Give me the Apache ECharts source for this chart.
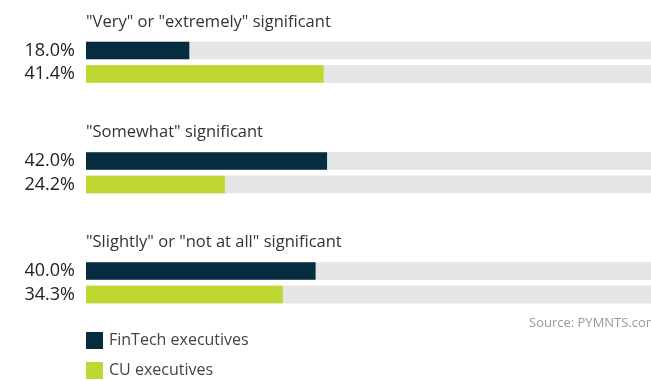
<!DOCTYPE html>
<html><head><meta charset="utf-8">
<script src="https://cdn.jsdelivr.net/npm/echarts@6/dist/echarts.min.js"></script>
<style>html,body{margin:0;padding:0;background:#fff}#c{width:651px;height:381px}</style>
</head><body><div id="c"></div>
<script>
const groupTitles = ['"Very" or "extremely" significant', '"Somewhat" significant', '"Slightly" or "not at all" significant'];
const seriesNames = ['FinTech executives', 'CU executives'];
const fintech = [18.0, 42.0, 40.0];
const cu = [41.4, 24.2, 34.3];
const colors = ['#062d3f', '#bfd730'];
const FONT = '"Open Sans", sans-serif';

const chart = echarts.init(document.getElementById('c'));
const gridTops = [38.75, 149.25, 259.25];
const titleTops = [14, 124, 234];
const grids = [], xAxes = [], yAxes = [], series = [], titles = [];
groupTitles.forEach((t, i) => {
  grids.push({left: 86, width: 574, top: gridTops[i], height: 47, outerBoundsMode: 'none', containLabel: false});
  xAxes.push({gridIndex: i, type: 'value', min: 0, max: 100, show: false});
  yAxes.push({gridIndex: i, type: 'category', inverse: true, data: seriesNames, show: false});
  titles.push({text: t, left: 86, top: titleTops[i], padding: [0, 0, 0, 0], textStyle: {fontFamily: FONT, fontSize: 16.5, fontWeight: 'normal', color: '#333'}});
  [fintech, cu].forEach((arr, s) => {
    const data = seriesNames.map((n, k) => k === s ? arr[i] : '-');
    series.push({
      type: 'bar', name: seriesNames[s], xAxisIndex: i, yAxisIndex: i,
      data: data, barWidth: 17.5, barGap: '-100%',
      showBackground: true, backgroundStyle: {color: '#e5e6e8'},
      itemStyle: {color: colors[s]},
      label: {show: true, position: 'left', distance: 11, formatter: p => p.value.toFixed(1) + '%',
        fontFamily: FONT, fontSize: 18, color: '#222'},
      silent: true, animation: false
    });
  });
});
chart.setOption({
  animation: false,
  title: titles,
  grid: grids, xAxis: xAxes, yAxis: yAxes, series: series,
  legend: {data: seriesNames, orient: 'vertical', left: 86, top: 332, padding: 0, icon: 'rect', itemWidth: 17, itemHeight: 17, itemGap: 13,
    textStyle: {fontFamily: FONT, fontSize: 16, color: '#444', padding: [0, 0, 0, 1]}, selectedMode: false},
  graphic: [{type: 'text', left: 529, top: 317, style: {text: 'Source: PYMNTS.com', font: '13px ' + FONT, fill: '#999'}}]
});
</script></body></html>
